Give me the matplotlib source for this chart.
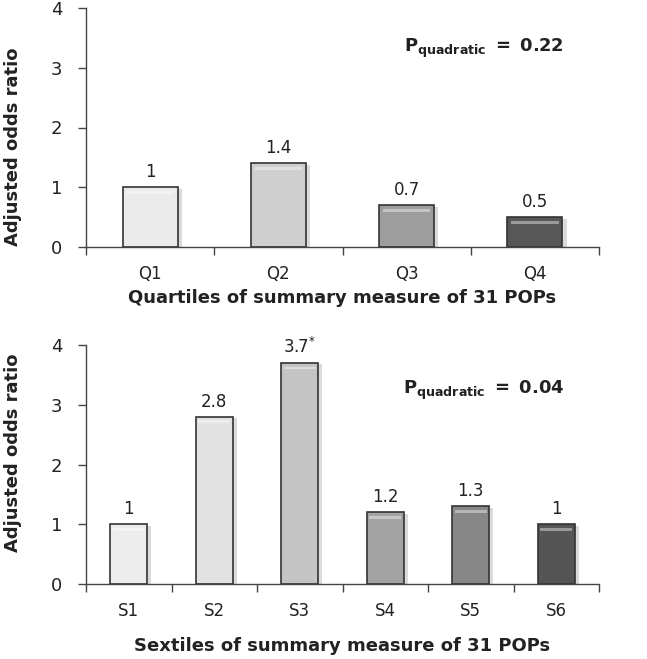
import matplotlib
matplotlib.use("Agg")
import matplotlib.pyplot as plt
import matplotlib.transforms as mtransforms
import numpy as np

# data
quartile_labels = ["Q1", "Q2", "Q3", "Q4"]
quartile_or = [1.0, 1.4, 0.7, 0.5]
quartile_text = ["1", "1.4", "0.7", "0.5"]
quartile_colors = ["#ebebeb", "#cfcfcf", "#9d9d9d", "#575757"]

sextile_labels = ["S1", "S2", "S3", "S4", "S5", "S6"]
sextile_or = [1.0, 2.8, 3.7, 1.2, 1.3, 1.0]
sextile_text = ["1", "2.8", r"3.7$^{*}$", "1.2", "1.3", "1"]
sextile_colors = ["#ececec", "#e2e2e2", "#c4c4c4", "#a3a3a3", "#878787", "#555555"]

p_top = "0.22"
p_bottom = "0.04"

plt.rcParams["font.family"] = ["DejaVu Sans"]
plt.rcParams["mathtext.fontset"] = "dejavusans"

fig = plt.figure(figsize=(6.47, 6.59), dpi=100)
ax1 = fig.add_axes([86 / 647, 1 - 247 / 659, 513 / 647, 239 / 659])
ax2 = fig.add_axes([86 / 647, 1 - 584 / 659, 513 / 647, 239 / 659])


def lighten(c, f):
    rgb = np.array(matplotlib.colors.to_rgb(c))
    return tuple(rgb + (1 - rgb) * f)


def draw_panel(ax, labels, vals, texts, colors, pval, xlabel, xlabel_pad, ptext_y, ylab_y):
    n = len(vals)
    x = np.arange(n) + 0.5
    w = 0.43
    shadow = ax.transData + mtransforms.ScaledTranslation(3 / 72, -1 / 72, fig.dpi_scale_trans)
    ax.bar(x, vals, width=w, color="#b8b8b8", alpha=0.5, linewidth=0, transform=shadow, zorder=1)
    ax.bar(x, vals, width=w, color=colors, edgecolor="#333333", linewidth=1.2, zorder=2)
    for xi, v, c in zip(x, vals, colors):
        ax.bar(xi, 0.05, bottom=v - 0.11, width=w * 0.86, color=lighten(c, 0.4),
               linewidth=0, zorder=3)
    for xi, v, t in zip(x, vals, texts):
        ax.text(xi, v + 0.1, t, ha="center", va="bottom", fontsize=12, color="#222222")

    ax.set_xlim(0, n)
    ax.set_ylim(0, 4)
    ax.set_yticks([0, 1, 2, 3, 4])
    ax.set_xticks(x)
    ax.set_xticklabels(labels)
    ax.set_xticks(np.arange(n + 1), minor=True)
    ax.tick_params(axis="x", which="major", length=0, pad=13, labelsize=12, labelcolor="#222222")
    ax.tick_params(axis="x", which="minor", length=6, width=1, color="#444444", direction="out")
    ax.tick_params(axis="y", length=6, width=1, color="#444444", pad=11, labelsize=13,
                   labelcolor="#222222")
    for s in ["top", "right"]:
        ax.spines[s].set_visible(False)
    for s in ["left", "bottom"]:
        ax.spines[s].set_color("#444444")
        ax.spines[s].set_linewidth(1)
    ax.set_ylabel("Adjusted odds ratio", fontsize=13, fontweight="bold", color="#222222")
    ax.yaxis.set_label_coords(-0.124, ylab_y)
    ax.set_xlabel(xlabel, fontsize=13, fontweight="bold", color="#222222", labelpad=xlabel_pad)
    ax.text(0.776, ptext_y, r"$\mathbf{P_{quadratic}}$" + r"$\mathbf{\ =\ " + pval + "}$",
            transform=ax.transAxes, ha="center", va="center", fontsize=13, color="#222222")


draw_panel(ax1, quartile_labels, quartile_or, quartile_text, quartile_colors, p_top,
           "Quartiles of summary measure of 31 POPs", 4, 0.83, 0.42)
draw_panel(ax2, sextile_labels, sextile_or, sextile_text, sextile_colors, p_bottom,
           "Sextiles of summary measure of 31 POPs", 12, 0.81, 0.55)

fig.savefig("out.png", dpi=100, facecolor="white")
